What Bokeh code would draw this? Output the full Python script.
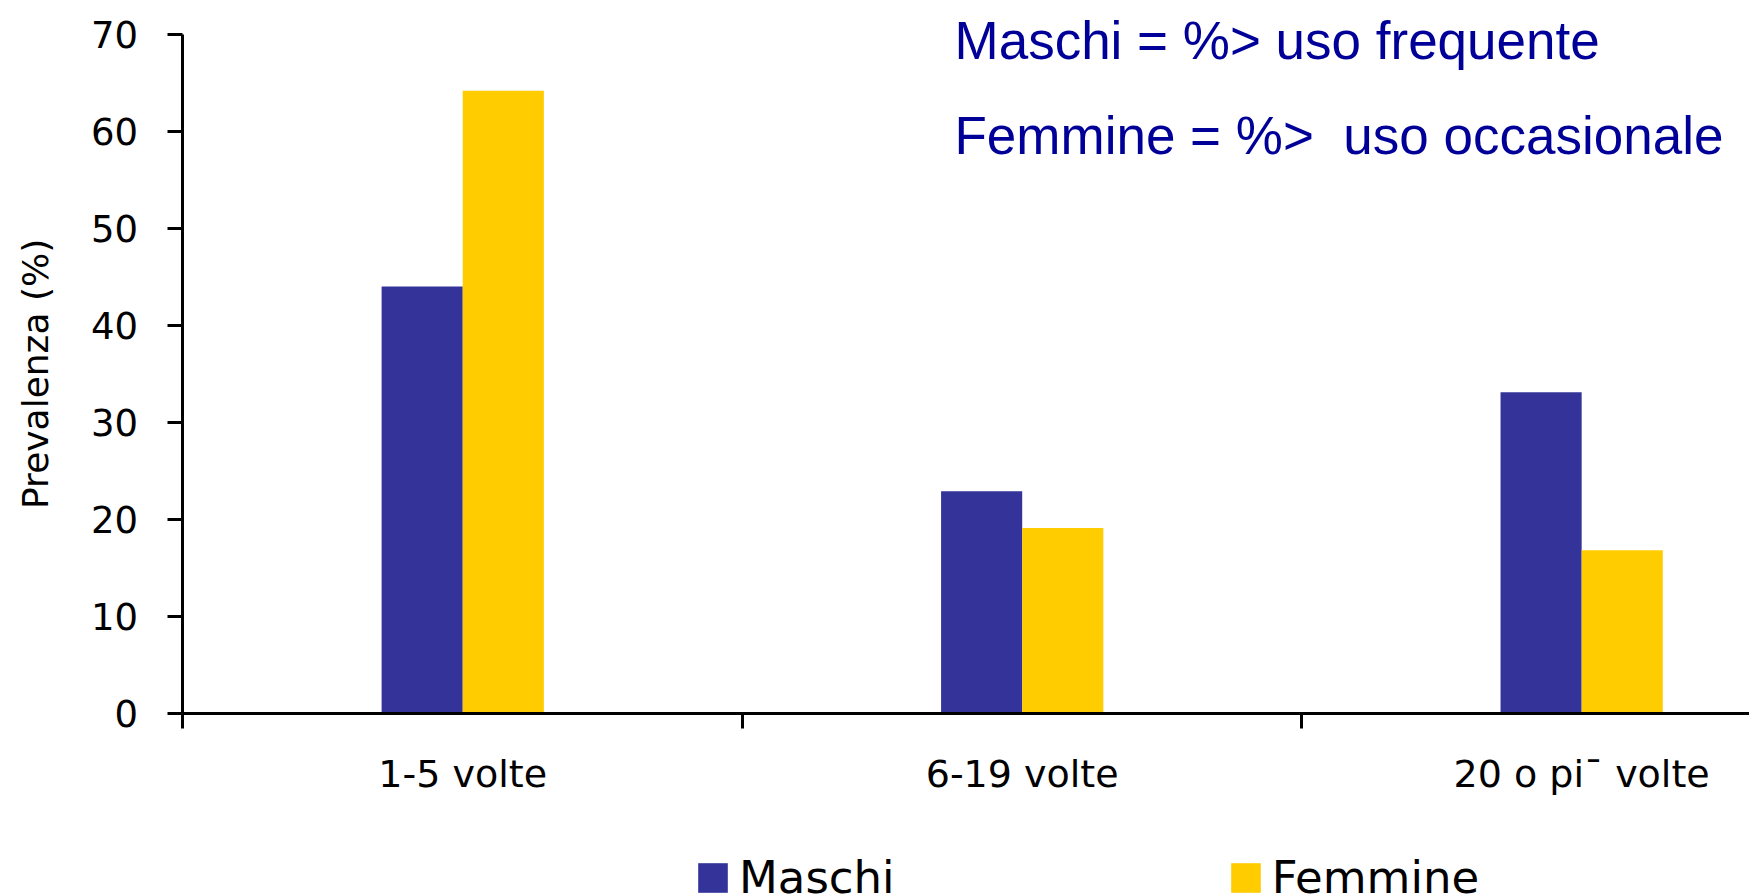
import math
from bokeh.plotting import figure
from bokeh.models import (Range1d, FixedTicker, Legend, LegendItem, Label, ColumnDataSource,
                          LinearAxis)
from bokeh.embed import file_html
from bokeh.resources import INLINE

categories = ["1-5 volte", "6-19 volte", "20 o pi\u00af volte"]
maschi = [44.0, 22.9, 33.1]
femmine = [64.2, 19.1, 16.8]
y_ticks = [0, 10, 20, 30, 40, 50, 60, 70]
y_title = "Prevalenza (%)"
note_lines = ["Maschi = %> uso frequente", "Femmine = %>\u00a0 uso occasionale"]
series_names = ["Maschi", "Femmine"]

BLUE = "#333399"
YELLOW = "#FFCC00"
BAR_W = 0.145
X_END = 2.8
Y_MAX = 70

centers = [i + 0.5 for i in range(len(categories))]
src_m = ColumnDataSource(dict(x=[c - BAR_W / 2 for c in centers], top=maschi))
src_f = ColumnDataSource(dict(x=[c + BAR_W / 2 for c in centers], top=femmine))

p = figure(width=1749, height=895, x_range=Range1d(-0.3262, X_END), y_range=Range1d(-18.8, 73.5),
           output_backend="svg", toolbar_location=None,
           min_border_left=0, min_border_right=0, min_border_top=0, min_border_bottom=0,
           x_axis_location=None, y_axis_location=None)
p.outline_line_color = None
p.grid.visible = False
p.background_fill_color = "white"
p.border_fill_color = "white"

rm = p.vbar(x="x", top="top", width=BAR_W, source=src_m, fill_color=BLUE, line_color=None)
rf = p.vbar(x="x", top="top", width=BAR_W, source=src_f, fill_color=YELLOW, line_color=None)

# y axis at x=0 (line limited to 0..70)
yax = LinearAxis(ticker=FixedTicker(ticks=y_ticks, minor_ticks=[]), bounds=(0, Y_MAX), fixed_location=0)
yax.axis_line_width = 3
yax.major_tick_line_width = 3
yax.major_tick_out = 15
yax.major_tick_in = 0
yax.minor_tick_line_color = None
yax.major_label_standoff = 30
yax.major_label_text_font = "DejaVu Sans"
yax.major_label_text_font_size = "37px"
yax.major_label_text_color = "black"
p.add_layout(yax, "left")

# y axis title, centred on the 0..70 span
p.add_layout(Label(x=-0.2628, y=Y_MAX / 2, text=y_title, angle=math.pi / 2,
                   text_align="center", text_baseline="middle",
                   text_font="DejaVu Sans", text_font_size="36px", text_color="black"))

# x axis at y=0: labels at category centres, tick marks at category boundaries
xax = LinearAxis(ticker=FixedTicker(ticks=centers, minor_ticks=[0, 1, 2]),
                 fixed_location=0, bounds=(0, X_END))
xax.axis_line_width = 3
xax.major_tick_line_color = None
xax.major_tick_out = 0
xax.major_tick_in = 0
xax.minor_tick_line_width = 3
xax.minor_tick_out = 15
xax.minor_tick_in = 0
xax.major_label_overrides = {c: lab for c, lab in zip(centers, categories)}
xax.major_label_standoff = 24
xax.major_label_text_font = "DejaVu Sans"
xax.major_label_text_font_size = "38px"
xax.major_label_text_color = "black"
p.add_layout(xax, "below")

# notes
for txt, yy in zip(note_lines, [69.34, 59.53]):
    p.add_layout(Label(x=1.379, y=yy, text=txt, text_font="Liberation Sans",
                       text_font_size="53px", text_color="#000099",
                       text_baseline="alphabetic", text_align="left"))

legend = Legend(items=[LegendItem(label=series_names[0], renderers=[rm]),
                       LegendItem(label=series_names[1], renderers=[rf])],
                location=(694, -9), orientation="horizontal")
legend.glyph_width = 37
legend.glyph_height = 37
legend.label_standoff = 8
legend.spacing = 332
legend.padding = 0
legend.margin = 0
legend.border_line_color = None
legend.background_fill_alpha = 0
legend.label_text_font = "DejaVu Sans"
legend.label_text_font_size = "45px"
legend.label_text_color = "black"
p.add_layout(legend)

open("out.html", "w").write(file_html(p, INLINE))
